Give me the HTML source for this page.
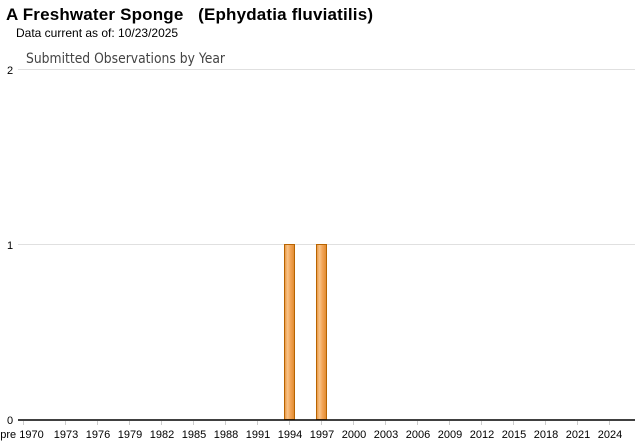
<!DOCTYPE html>
<html><head><style>
body{margin:0;width:640px;height:442px;background:#fff;overflow:hidden;font-family:"Liberation Sans",Arial,sans-serif}
</style></head><body>
<svg width="640" height="442" xmlns="http://www.w3.org/2000/svg" font-family="Liberation Sans, Arial, sans-serif">
<defs><linearGradient id="g" x1="0" x2="1"><stop offset="0" stop-color="#e8923a"/><stop offset="0.3" stop-color="#f8c48a"/><stop offset="0.6" stop-color="#f2a455"/><stop offset="1" stop-color="#e08a30"/></linearGradient></defs>
<text x="6" y="20" font-size="17" font-weight="bold" fill="#000" style="white-space:pre" textLength="367">A Freshwater Sponge   (Ephydatia fluviatilis)</text>
<text x="16" y="37" font-size="12" fill="#000">Data current as of: 10/23/2025</text>
<text x="26" y="63" font-size="14" fill="#444" font-family="DejaVu Sans, sans-serif" textLength="199" lengthAdjust="spacingAndGlyphs">Submitted Observations by Year</text>
<line x1="18" y1="69.5" x2="635" y2="69.5" stroke="#e0e0e0"/>
<line x1="18" y1="244.5" x2="635" y2="244.5" stroke="#e0e0e0"/>
<text x="10" y="74" font-size="11" text-anchor="middle">2</text>
<text x="10" y="249" font-size="11" text-anchor="middle">1</text>
<text x="10" y="424" font-size="11" text-anchor="middle">0</text>
<rect x="284.5" y="244.5" width="10" height="175" fill="url(#g)" stroke="#b86400"/>
<rect x="316.5" y="244.5" width="10" height="175" fill="url(#g)" stroke="#b86400"/>
<line x1="18" y1="420" x2="635" y2="420" stroke="#000" stroke-width="1.5"/>
<g stroke="#ccc">
<line x1="23.5" y1="421" x2="23.5" y2="425"/>
<line x1="65.5" y1="421" x2="65.5" y2="425"/><line x1="97.5" y1="421" x2="97.5" y2="425"/><line x1="129.5" y1="421" x2="129.5" y2="425"/><line x1="161.5" y1="421" x2="161.5" y2="425"/><line x1="193.5" y1="421" x2="193.5" y2="425"/><line x1="225.5" y1="421" x2="225.5" y2="425"/><line x1="257.5" y1="421" x2="257.5" y2="425"/><line x1="289.5" y1="421" x2="289.5" y2="425"/><line x1="321.5" y1="421" x2="321.5" y2="425"/><line x1="353.5" y1="421" x2="353.5" y2="425"/><line x1="385.5" y1="421" x2="385.5" y2="425"/><line x1="417.5" y1="421" x2="417.5" y2="425"/><line x1="449.5" y1="421" x2="449.5" y2="425"/><line x1="481.5" y1="421" x2="481.5" y2="425"/><line x1="513.5" y1="421" x2="513.5" y2="425"/><line x1="545.5" y1="421" x2="545.5" y2="425"/><line x1="577.5" y1="421" x2="577.5" y2="425"/><line x1="609.5" y1="421" x2="609.5" y2="425"/>
</g>
<g font-size="11" text-anchor="middle" fill="#000">
<text x="22" y="438">pre 1970</text>
<text x="66" y="438">1973</text><text x="98" y="438">1976</text><text x="130" y="438">1979</text><text x="162" y="438">1982</text><text x="194" y="438">1985</text><text x="226" y="438">1988</text><text x="258" y="438">1991</text><text x="290" y="438">1994</text><text x="322" y="438">1997</text><text x="354" y="438">2000</text><text x="386" y="438">2003</text><text x="418" y="438">2006</text><text x="450" y="438">2009</text><text x="482" y="438">2012</text><text x="514" y="438">2015</text><text x="546" y="438">2018</text><text x="578" y="438">2021</text><text x="610" y="438">2024</text>
</g>
</svg>
</body></html>
